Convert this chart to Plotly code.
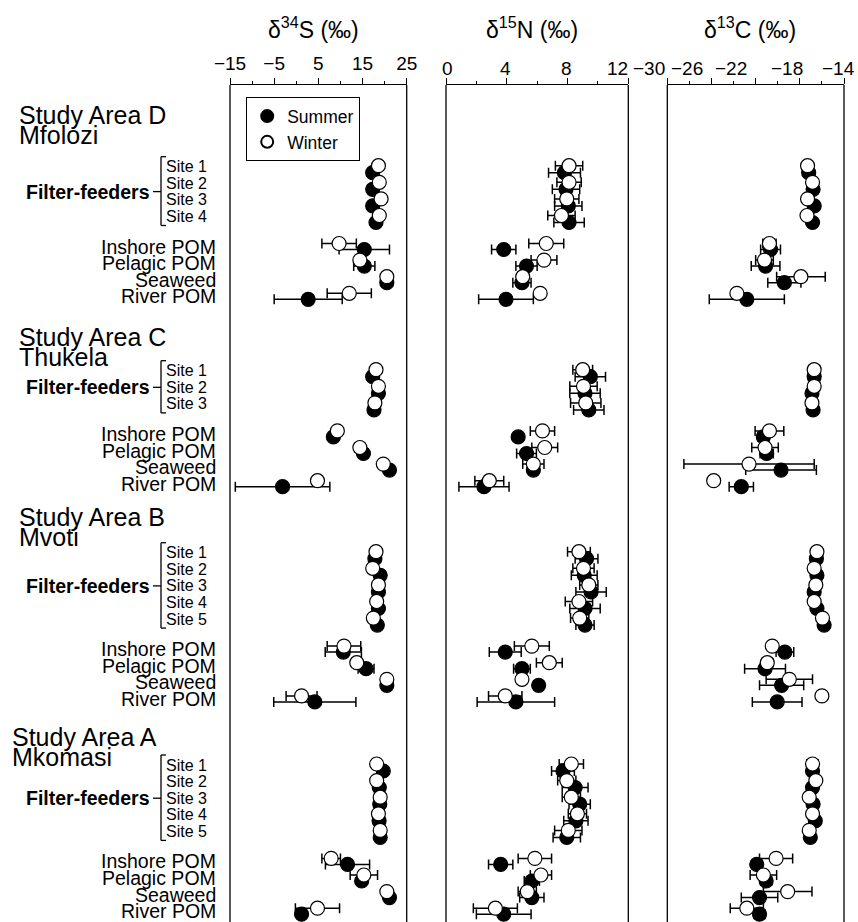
import plotly.graph_objects as go

# ---------------- data ----------------
area_titles = ["Study Area D", "Study Area C", "Study Area B", "Study Area A"]
area_rivers = ["Mfolozi", "Thukela", "Mvoti", "Mkomasi"]
site_counts = [4, 3, 5, 5]
source_names = ["Inshore POM", "Pelagic POM", "Seaweed", "River POM"]
seasons = ["Summer", "Winter"]

# rows: for each area -> sites then the 4 sources (D, C, B, A)
S_summer = [17.3, 17.3, 17.3, 18.05, 15.4, 15.4, 20.5, 2.7,
            17.3, 18.6, 17.6, 8.4, 15.2, 21.1, -3.1,
            17.8, 19.0, 18.6, 18.6, 18.35, 10.65, 15.8, 20.5, 4.2,
            19.7, 18.8, 18.9, 18.75, 19.0, 11.6, 14.8, 21.1, 1.2]
S_summer_sd = [0.5, 0.5, 0.5, 0.5, 5.7, 2.4, 0.5, 7.7,
               0.5, 0.5, 0.5, 0.5, 1.0, 0.5, 10.7,
               0.5, 0.5, 0.5, 0.5, 0.5, 4.1, 1.8, 0.5, 9.3,
               0.5, 0.5, 0.5, 0.5, 0.5, 5.0, 1.0, 0.5, 0.5]
S_winter = [18.6, 18.8, 19.2, 18.8, 9.7, 14.4, 20.5, 12.0,
            18.05, 18.6, 17.8, 9.3, 14.4, 19.7, 4.8,
            18.05, 17.3, 18.6, 18.2, 17.45, 10.8, 13.7, 20.5, 1.2,
            18.2, 18.2, 19.0, 18.6, 19.0, 7.9, 15.3, 20.5, 4.8]
S_winter_sd = [0.5, 0.5, 0.5, 0.5, 3.9, 1.0, 0.5, 5.0,
               0.5, 0.5, 0.5, 0.5, 1.2, 0.5, 1.0,
               0.5, 0.5, 0.5, 0.5, 0.5, 3.8, 0.5, 0.5, 3.5,
               0.5, 0.5, 0.5, 0.5, 0.5, 2.1, 3.1, 0.5, 5.0]

N_summer = [7.8, 7.9, 8.05, 8.1, 3.8, 5.3, 5.0, 3.95,
            9.5, 9.15, 9.4, 4.75, 5.3, 5.75, 2.5,
            9.25, 9.1, 9.55, 9.15, 9.15, 3.9, 5.0, 6.1, 4.6,
            7.7, 8.5, 8.8, 8.55, 7.95, 3.6, 5.65, 5.65, 3.8]
N_summer_sd = [1.05, 0.9, 0.9, 1.0, 0.8, 0.7, 0.6, 1.8,
               1.0, 1.0, 1.0, 0.3, 0.65, 0.3, 1.65,
               0.75, 0.85, 1.0, 1.0, 0.6, 1.05, 0.55, 0.3, 2.55,
               0.75, 0.85, 0.7, 0.8, 0.9, 0.8, 0.5, 0.8, 1.8]
N_winter = [8.1, 8.1, 7.95, 7.6, 6.6, 6.45, 5.05, 6.2,
            9.0, 9.05, 9.2, 6.35, 6.5, 5.75, 2.85,
            8.75, 9.05, 9.4, 8.75, 8.8, 5.65, 6.8, 5.0, 3.9,
            8.25, 7.95, 8.25, 8.65, 8.05, 5.85, 6.25, 5.35, 3.25]
N_winter_sd = [0.9, 0.8, 0.8, 0.9, 1.15, 0.85, 0.3, 0.3,
               0.65, 0.9, 1.0, 0.8, 0.85, 0.7, 0.95,
               0.75, 0.7, 0.6, 0.9, 0.6, 1.15, 0.85, 0.3, 1.1,
               0.8, 0.6, 0.6, 0.6, 0.9, 1.1, 0.7, 0.6, 1.45]

C_summer = [-17.2, -16.8, -16.7, -16.85, -20.65, -21.1, -19.4, -22.8,
            -16.7, -16.9, -16.8, -21.3, -21.0, -19.7, -23.3,
            -16.5, -16.45, -16.7, -16.45, -15.8, -19.35, -21.15, -19.65, -20.05,
            -16.85, -16.85, -16.8, -16.6, -17.05, -21.9, -21.05, -21.65, -21.65]
C_summer_sd = [0.4, 0.4, 0.4, 0.4, 0.9, 1.3, 1.5, 3.4,
               0.4, 0.4, 0.4, 0.5, 0.6, 3.2, 1.1,
               0.4, 0.4, 0.4, 0.4, 0.4, 0.8, 1.85, 2.0, 2.25,
               0.4, 0.4, 0.4, 0.4, 0.4, 0.4, 0.5, 1.65, 0.5]
C_winter = [-17.3, -16.85, -17.3, -17.35, -20.75, -21.2, -17.9, -23.7,
            -16.7, -16.7, -16.9, -20.75, -21.15, -22.6, -25.8,
            -16.45, -16.7, -16.55, -16.7, -15.95, -20.5, -20.95, -18.95, -16.0,
            -16.85, -16.55, -17.15, -16.85, -17.15, -20.15, -21.3, -19.1, -22.8]
C_winter_sd = [0.3, 0.3, 0.3, 0.3, 0.6, 0.8, 2.2, 0.4,
               0.5, 0.5, 0.3, 1.3, 1.2, 5.9, 0.3,
               0.3, 0.3, 0.3, 0.3, 0.3, 0.4, 0.5, 2.1, 0.4,
               0.5, 0.4, 0.3, 0.3, 0.3, 1.5, 1.2, 2.2, 1.5]

S_ticks = [-15, -5, 5, 15, 25]
N_ticks = [0, 4, 8, 12]
C_ticks = [-30, -26, -22, -18, -14]

# ---------------- layout helpers (pixel-like vertical units) ----------------
W, H = 858, 922
TOP = 85
HEAD_Y = [115, 336.7, 516.7, 736.7]
HEAD_GAP = [51.7, 34, 36, 28.3]
ROW = 16.6
SRC_GAP = 30.0
FONT = "Liberation Sans, Arial, Helvetica, sans-serif"
# tick labels in the reference are typeset slightly off their ticks (pixels)
N_LABEL_SHIFT = [1, -1, -1, -11]
C_LABEL_SHIFT = [-18, -24, -25, -13, -6]

row_y, row_kind = [], []
site_rows_by_area = []
src_rows_by_area = []
for a in range(4):
    y0 = HEAD_Y[a] + HEAD_GAP[a]
    sites = [y0 + i * ROW for i in range(site_counts[a])]
    srcs = [sites[-1] + SRC_GAP + j * ROW for j in range(len(source_names))]
    site_rows_by_area.append(sites)
    src_rows_by_area.append(srcs)
    row_y += sites + srcs
    row_kind += ["site"] * len(sites) + ["src"] * len(srcs)

y_summer = [y + (6 if k == "site" else 3) for y, k in zip(row_y, row_kind)]
y_winter = [y + (-1 if k == "site" else -3) for y, k in zip(row_y, row_kind)]

fig = go.Figure()

panels = [
    ("x", S_summer, S_summer_sd, S_winter, S_winter_sd),
    ("x2", N_summer, N_summer_sd, N_winter, N_winter_sd),
    ("x3", C_summer, C_summer_sd, C_winter, C_winter_sd),
]
for i, (xa, sm, ssd, wm, wsd) in enumerate(panels):
    for season, vals, sds, ys, fill in [("Summer", sm, ssd, y_summer, "black"),
                                         ("Winter", wm, wsd, y_winter, "white")]:
        fig.add_trace(go.Scatter(
            x=vals, y=ys, xaxis=xa, yaxis="y", mode="markers", name=season,
            showlegend=(i == 0),
            marker=dict(size=14, color=fill, line=dict(color="black", width=1.2)),
            error_x=dict(type="data", array=sds, color="black", thickness=1.5, width=5),
        ))

# axes
def xaxis(rng, ticks, minor, dom, labels=True):
    return dict(domain=dom, range=rng, side="top", anchor="y", automargin=False,
                tickmode="array", tickvals=ticks, ticks="outside", ticklen=6,
                tickwidth=1.3, tickcolor="black", showline=True, linewidth=1.3,
                linecolor="black", showgrid=False, zeroline=False,
                showticklabels=labels,
                tickfont=dict(family=FONT, size=19, color="black"),
                minor=dict(ticks="outside", ticklen=3, dtick=minor, tick0=rng[0],
                           tickcolor="black", tickwidth=1.3, showgrid=False),
                fixedrange=True)

dom1 = [230 / W, 406.7 / W]
dom2 = [446 / W, 628.3 / W]
dom3 = [667.3 / W, 844 / W]

fig.update_layout(
    width=W, height=H,
    autosize=False,
    margin=dict(l=0, r=0, t=TOP, b=0, pad=0, autoexpand=False),
    plot_bgcolor="white", paper_bgcolor="white",
    xaxis=xaxis([S_ticks[0], S_ticks[-1]], S_ticks, 5, dom1),
    xaxis2=xaxis([N_ticks[0], N_ticks[-1]], N_ticks, 2, dom2, labels=False),
    xaxis3=xaxis([C_ticks[0], C_ticks[-1]], C_ticks, 2, dom3, labels=False),
    yaxis=dict(range=[H, TOP], domain=[0, 1], visible=False, fixedrange=True,
               automargin=False),
    showlegend=True,
    legend=dict(x=246 / W, y=(H - 97) / (H - TOP), xanchor="left", yanchor="top",
                bordercolor="black", borderwidth=1.2, bgcolor="white",
                font=dict(family=FONT, size=17.5, color="black"),
                itemsizing="constant", tracegroupgap=0),
)

shapes = []
for ref in ["x", "x2", "x3"]:
    for xv in [0, 1]:
        shapes.append(dict(type="line", xref=f"{ref} domain", x0=xv, x1=xv,
                           yref="paper", y0=0, y1=1,
                           line=dict(color="black", width=1.3)))

annotations = []
titles = ["δ<sup>34</sup>S (‰)", "δ<sup>15</sup>N (‰)", "δ<sup>13</sup>C (‰)"]
for ref, t in zip(["x", "x2", "x3"], titles):
    annotations.append(dict(text=t, xref=f"{ref} domain", x=0.47, yref="paper",
                            y=(H - 28) / (H - TOP), showarrow=False,
                            xanchor="center", yanchor="middle",
                            font=dict(family=FONT, size=23, color="black")))

def fmt(v):
    return f"\u2212{abs(v)}" if v < 0 else f"{v}"

# δ15N and δ13C tick labels (hand-placed in the reference)
for ref, ticks, shifts in [("x2", N_ticks, N_LABEL_SHIFT), ("x3", C_ticks, C_LABEL_SHIFT)]:
    for v, sh in zip(ticks, shifts):
        annotations.append(dict(text=fmt(v), xref=ref, x=v, xshift=sh,
                                yref="paper", y=(H - 68) / (H - TOP), showarrow=False,
                                xanchor="center", yanchor="middle",
                                font=dict(family=FONT, size=19, color="black")))

for a in range(4):
    hx = 10 if a == 3 else 17
    annotations.append(dict(text=area_titles[a], xref="paper", x=hx / W, yref="y",
                            y=HEAD_Y[a], xanchor="left", yanchor="middle", showarrow=False,
                            font=dict(family=FONT, size=25, color="black")))
    annotations.append(dict(text=area_rivers[a], xref="paper", x=hx / W, yref="y",
                            y=HEAD_Y[a] + 20, xanchor="left", yanchor="middle", showarrow=False,
                            font=dict(family=FONT, size=25, color="black")))
    sites = site_rows_by_area[a]
    mid = (sites[0] + sites[-1]) / 2
    annotations.append(dict(text="<b>Filter-feeders</b>", xref="paper", x=152 / W, yref="y",
                            y=mid, xanchor="right", yanchor="middle", showarrow=False,
                            font=dict(family=FONT, size=19.5, color="black")))
    for k, sy in enumerate(sites):
        annotations.append(dict(text=f"Site {k + 1}", xref="paper", x=164 / W, yref="y",
                                y=sy, xanchor="left", yanchor="middle", showarrow=False,
                                font=dict(family=FONT, size=16, color="black")))
    for name, sy in zip(source_names, src_rows_by_area[a]):
        annotations.append(dict(text=name, xref="paper", x=218 / W, yref="y",
                                y=sy, xanchor="right", yanchor="middle", showarrow=False,
                                font=dict(family=FONT, size=19.5, color="black")))
    # bracket
    top, bot = sites[0] - 10, sites[-1] + 9
    bx = 161 / W
    lw = dict(color="black", width=1.3)
    shapes += [
        dict(type="line", xref="paper", yref="y", x0=bx, x1=bx, y0=top, y1=bot, line=lw),
        dict(type="line", xref="paper", yref="y", x0=bx, x1=166 / W, y0=top, y1=top, line=lw),
        dict(type="line", xref="paper", yref="y", x0=bx, x1=166 / W, y0=bot, y1=bot, line=lw),
        dict(type="line", xref="paper", yref="y", x0=153 / W, x1=bx, y0=mid, y1=mid, line=lw),
    ]

fig.update_layout(shapes=shapes, annotations=annotations)
fig.write_html("out.html", config={"displayModeBar": False},
               post_script="document.body.style.margin='0';document.body.style.overflow='hidden';")
